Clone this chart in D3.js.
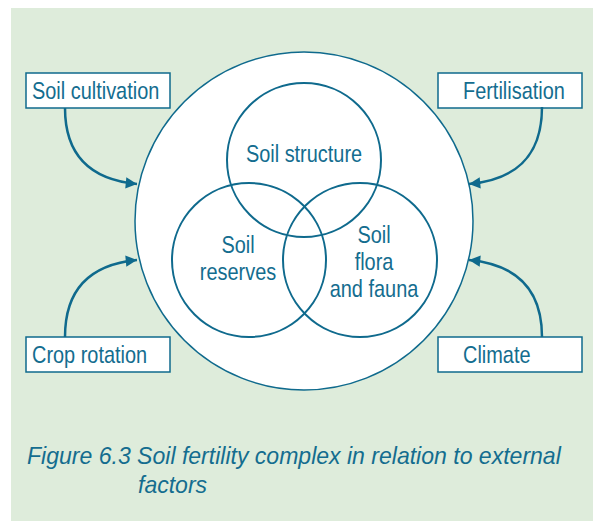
<!DOCTYPE html>
<html lang="en">
  <head>
    <meta charset="utf-8">
    <title>Soil fertility complex</title>
    <script src="https://cdn.jsdelivr.net/npm/d3@7"></script>
    <style>
      body { margin: 0; background: #fff; }
      text { font-family: "Liberation Sans", Arial, sans-serif; fill: #146d8f; }
    </style>
  </head>
  <body>
    <div id="chart"></div>
    <script type="text/javascript">

      // inner components of the soil fertility complex
      var components = [["Soil structure"], ["Soil", "reserves"], ["Soil", "flora", "and fauna"]]
      // external factors, clockwise from top left
      var factors = ["Soil cultivation", "Fertilisation", "Climate", "Crop rotation"]
      var caption = ["Figure 6.3 Soil fertility complex in relation to external", "factors"]

      var w = 593, h = 521
      var ink = "#0f6a8d"
      var narrow = 0.83   // no condensed face installed, so squeeze the regular one

      var svg = d3.select("#chart").append("svg")
          .attr("width", w)
          .attr("height", h)

      svg.append("rect")
        .attr("x", 11).attr("y", 8)
        .attr("width", w - 11).attr("height", h - 8)
        .attr("fill", "#deecdb")

      svg.append("defs").append("marker")
        .attr("id", "arrowhead")
        .attr("viewBox", "0 -5 10 10")
        .attr("refX", 10)
        .attr("refY", 0)
        .attr("markerWidth", 6.5)
        .attr("markerHeight", 4.5)
        .attr("markerUnits", "strokeWidth")
        .attr("orient", "auto")
        .append("path")
        .attr("d", "M0,-5L10,0L0,5Z")
        .attr("fill", ink)

      function label(x, y, str, size, anchor, italic, sx) {
        return svg.append("text")
          .attr("transform", "translate(" + x + "," + y + ") scale(" + (sx || narrow) + ",1)")
          .attr("text-anchor", anchor || "start")
          .attr("font-size", size)
          .attr("font-style", italic ? "italic" : "normal")
          .text(str)
      }

      /*
       * big circle and the three overlapping ones
       */
      var cx = 304, cy = 221, R = 169, r = 77

      svg.append("circle")
        .attr("cx", cx).attr("cy", cy).attr("r", R)
        .attr("fill", "#fff")
        .attr("stroke", ink).attr("stroke-width", 1.5)

      var centres = [[0, -61], [-55, 39], [56, 39]]
      var labelPos = [[0, -59], [-66, 32], [70, 22]]

      components.forEach(function(c, i) {
        svg.append("circle")
          .attr("cx", cx + centres[i][0]).attr("cy", cy + centres[i][1]).attr("r", r)
          .attr("fill", "none")
          .attr("stroke", ink).attr("stroke-width", 2)
      })

      components.forEach(function(c, i) {
        c.forEach(function(line, j) {
          label(cx + labelPos[i][0], cy + labelPos[i][1] + j * 27, line, 24, "middle")
        })
      })

      /*
       * factor boxes with their arrows
       */
      var boxW = 144, boxH = 35
      var boxes = [[26, 73], [438, 73], [438, 337], [26, 337]]
      var textX = [32, 463, 463, 32]
      var arrows = [
        "M65,108 C65,160 95,180 137,184",
        "M542,107 C542,160 512,180 469,184",
        "M542,337 C542,285 512,264 469,260",
        "M65,337 C65,285 95,264 137,260"
      ]

      factors.forEach(function(f, i) {
        svg.append("rect")
          .attr("x", boxes[i][0]).attr("y", boxes[i][1])
          .attr("width", boxW).attr("height", boxH)
          .attr("fill", "#fff")
          .attr("stroke", ink).attr("stroke-width", 1.5)

        label(textX[i], boxes[i][1] + 26, f, 24)

        svg.append("path")
          .attr("d", arrows[i])
          .attr("fill", "none")
          .attr("stroke", ink).attr("stroke-width", 2.5)
          .attr("marker-end", "url(#arrowhead)")
      })

      caption.forEach(function(line, i) {
        label(i == 0 ? 27 : 138, 464 + i * 29, line, 24, "start", true, 0.96)
      })

    </script>
  </body>
</html>
